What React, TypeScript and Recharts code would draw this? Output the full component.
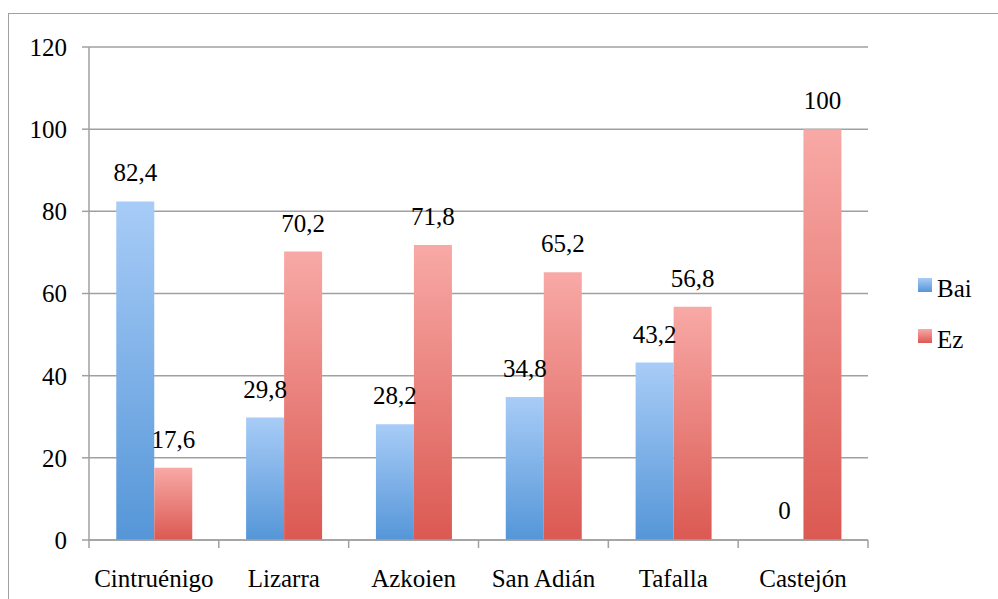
import {
  BarChart,
  Bar,
  XAxis,
  YAxis,
  CartesianGrid,
  LabelList,
  Cell,
} from "recharts"

const categories = ["Cintruénigo", "Lizarra", "Azkoien", "San Adián", "Tafalla", "Castejón"]
const baiValues = [82.4, 29.8, 28.2, 34.8, 43.2, 0]
const ezValues = [17.6, 70.2, 71.8, 65.2, 56.8, 100]
const yTicks = [0, 20, 40, 60, 80, 100, 120]
const seriesNames = ["Bai", "Ez"]

const data = categories.map((name, i) => ({ name, Bai: baiValues[i], Ez: ezValues[i] }))

const FONT = '"Liberation Serif", Tinos, "Times New Roman", Times, "Nimbus Roman", "DejaVu Serif", serif'
const FS = 25
const AXIS_GRAY = "#a0a0a0"
const PLOT_LEFT = 89
const PLOT_RIGHT = 868
const BAND = (PLOT_RIGHT - PLOT_LEFT) / categories.length

const gradients: Record<string, [string, string]> = {
  Bai: ["#a8ccf7", "#5596d8"],
  Ez: ["#f8a9a6", "#db5952"],
}

const fmt = (v: number) => String(v).replace(".", ",")

function CategoryTick({ x, y, payload, index }: any) {
  const left = x - BAND / 2
  return (
    <g>
      <line x1={left} y1={y - 8} x2={left} y2={y} stroke={AXIS_GRAY} strokeWidth={1.5} />
      {index === categories.length - 1 && (
        <line x1={x + BAND / 2} y1={y - 8} x2={x + BAND / 2} y2={y} stroke={AXIS_GRAY} strokeWidth={1.5} />
      )}
      <text x={x} y={y + 39} textAnchor="middle" fontFamily={FONT} fontSize={FS} fill="#000">
        {payload.value}
      </text>
    </g>
  )
}

export default function App() {
  return (
    <div style={{ position: "absolute", left: 0, top: 0, width: 998, height: 599, background: "#fff", overflow: "hidden", fontFamily: FONT }}>
      <div
        style={{
          position: "absolute",
          left: 8,
          top: 13,
          width: 1100,
          height: 700,
          border: "1.5px solid #a0a0a0",
        }}
      />
      <BarChart
        width={998}
        height={599}
        data={data}
        margin={{ top: 47, right: 998 - PLOT_RIGHT, bottom: 0, left: 0 }}
        barCategoryGap="21%"
        barGap={0}
        style={{ position: "absolute", left: 0, top: 0 }}
      >
        <defs>
          {seriesNames.map((s) => (
            <linearGradient key={s} id={`g${s}`} x1="0" y1="0" x2="0" y2="1">
              <stop offset="0%" stopColor={gradients[s][0]} />
              <stop offset="100%" stopColor={gradients[s][1]} />
            </linearGradient>
          ))}
        </defs>
        <CartesianGrid vertical={false} stroke={AXIS_GRAY} strokeWidth={1.5} />
        <XAxis
          dataKey="name"
          height={59}
          tickLine={false}
          axisLine={{ stroke: AXIS_GRAY, strokeWidth: 1.5 }}
          tick={<CategoryTick />}
          interval={0}
        />
        <YAxis
          width={PLOT_LEFT}
          domain={[0, 120]}
          ticks={yTicks}
          tickSize={7}
          tickMargin={15}
          tickLine={{ stroke: AXIS_GRAY, strokeWidth: 1.5 }}
          axisLine={{ stroke: AXIS_GRAY, strokeWidth: 1.5 }}
          tick={{ fontFamily: FONT, fontSize: FS, fill: "#000" }}
        />
        {seriesNames.map((s) => (
          <Bar
            key={s}
            dataKey={s}
            fill={`url(#g${s})`}
            minPointSize={1}
            isAnimationActive={false}
          >
            {data.map((d: any, i) => (
              <Cell key={i} fill={d[s] === 0 ? "none" : `url(#g${s})`} />
            ))}
            <LabelList dataKey={s} position="top" offset={20} formatter={fmt} style={{ fontFamily: FONT, fontSize: FS, fill: "#000" }} />
          </Bar>
        ))}
      </BarChart>
      {seriesNames.map((s, i) => (
        <div
          key={s}
          style={{
            position: "absolute",
            left: 918,
            top: 276 + i * 51,
            display: "flex",
            alignItems: "flex-start",
            fontSize: FS,
            lineHeight: `${FS}px`,
            color: "#000",
          }}
        >
          <span
            style={{
              display: "inline-block",
              width: 14,
              height: 14,
              marginTop: 2,
              marginRight: 5,
              background: `linear-gradient(${gradients[s][0]}, ${gradients[s][1]})`,
            }}
          />
          {s}
        </div>
      ))}
    </div>
  )
}
